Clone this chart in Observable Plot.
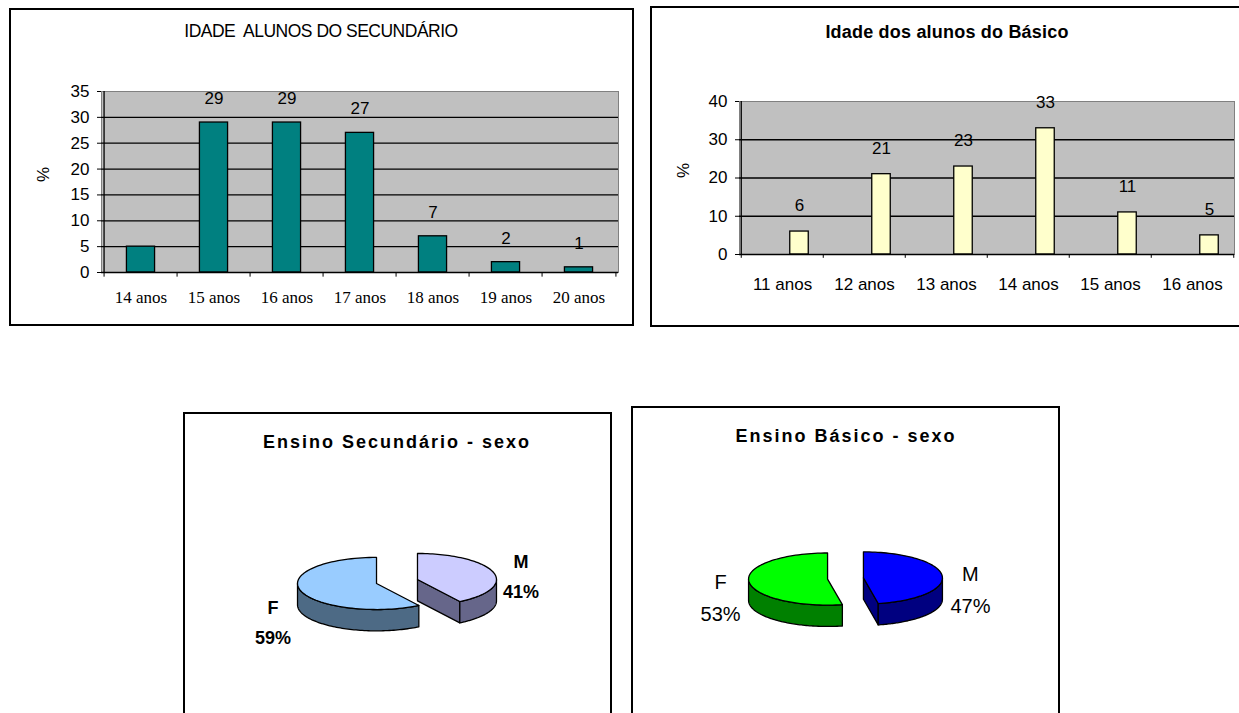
<!DOCTYPE html>
<html><head><meta charset="utf-8">
<script src="https://cdn.jsdelivr.net/npm/d3@7"></script>
<script src="https://cdn.jsdelivr.net/npm/@observablehq/plot@0.6"></script>
<style>
body{margin:0;background:#fff;}
#page{position:relative;width:1239px;height:713px;overflow:hidden;background:#fff;font-family:"Liberation Sans",Arial,sans-serif;}
.frame{position:absolute;border:2px solid #000;box-sizing:border-box;}
.layer{position:absolute;left:0;top:0;}
.title{position:absolute;transform:translate(-50%,-50%);white-space:pre;color:#000;line-height:1;}
</style></head><body><div id="page"></div>
<script>
// ---------- data ----------
const secAges = ["14 anos","15 anos","16 anos","17 anos","18 anos","19 anos","20 anos"];
const secValues = [5, 29, 29, 27, 7, 2, 1];
const secLabelShown = [false, true, true, true, true, true, true];
const secTicks = [0, 5, 10, 15, 20, 25, 30, 35];

const basAges = ["11 anos","12 anos","13 anos","14 anos","15 anos","16 anos"];
const basValues = [6, 21, 23, 33, 11, 5];
const basTicks = [0, 10, 20, 30, 40];

const sexCats = ["F", "M"];
const secSexValues = [59, 41];
const basSexValues = [53, 47];

// ---------- layout ----------
const W = 1239, H = 713;
const page = document.getElementById("page");
function addFrame(l, t, w, h) {
  const d = document.createElement("div");
  d.className = "frame";
  Object.assign(d.style, {left: l + "px", top: t + "px", width: w + "px", height: h + "px"});
  page.appendChild(d);
}
function addTitle(text, cx, cy, css) {
  const d = document.createElement("div");
  d.className = "title";
  d.textContent = text;
  Object.assign(d.style, {left: cx + "px", top: cy + "px"}, css);
  page.appendChild(d);
}
function addLayer(svg, tweaks) {
  svg.classList.add("layer");
  if (tweaks) for (const [label, ls] of tweaks)
    d3.select(svg).selectAll(`g[aria-label="${label}"] text`).style("letter-spacing", ls);
  page.appendChild(svg);
}
const baseStyle = {background: "transparent", overflow: "visible", fontFamily: "Liberation Sans, Arial, sans-serif", fontSize: "16px", color: "#000"};

addFrame(9, 8, 625, 318);
addFrame(650, 6, 600, 321);
addFrame(183, 412, 429, 400);
addFrame(631, 406, 429, 400);

addTitle("IDADE  ALUNOS DO SECUNDÁRIO", 321, 32, {fontSize: "17.5px", letterSpacing: "-0.5px"});
addTitle("Idade dos alunos do Básico", 947, 32, {fontSize: "18px", fontWeight: "bold", letterSpacing: "0.2px"});
addTitle("Ensino Secundário - sexo", 397, 442, {fontSize: "18px", fontWeight: "bold", letterSpacing: "2px"});
addTitle("Ensino Básico - sexo", 846, 436, {fontSize: "18px", fontWeight: "bold", letterSpacing: "2px"});

// ---------- chart 1: secundário ages ----------
{
  const L = 101, R = 618, T = 91, B = 272;
  const step = (R - L) / secAges.length, bw = 29;
  const rows = secAges.map((a, i) => ({age: a, v: secValues[i], shown: secLabelShown[i]}));
  const svg = Plot.plot({
    width: W, height: H, marginLeft: L, marginRight: W - R, marginTop: T, marginBottom: H - B,
    style: baseStyle,
    x: {domain: secAges, padding: 0, axis: null},
    y: {domain: [0, 35]},
    marks: [
      Plot.frame({fill: "#c0c0c0", stroke: "#808080"}),
      Plot.ruleY(secTicks.filter(t => t > 0 && t < 35), {stroke: "#000", strokeWidth: 1.3}),
      Plot.barY(rows, {x: "age", y: "v", fill: "#008080", stroke: "#000", strokeWidth: 1.3,
        insetLeft: (step - bw) / 2, insetRight: (step - bw) / 2}),
      Plot.ruleY([0], {stroke: "#000", strokeWidth: 1.3}),
      Plot.ruleX([secAges[0]], {y1: 0, y2: 35, dx: -step / 2, stroke: "#000", strokeWidth: 1.3}),
      Plot.ruleX(secAges, {x: d => d, y1: 0, y2: -0.9, dx: -step / 2, stroke: "#000"}),
      Plot.ruleX([secAges[secAges.length - 1]], {y1: 0, y2: -0.9, dx: step / 2, stroke: "#000"}),
      Plot.axisY({ticks: secTicks, tickSize: 4, tickPadding: 8, fontSize: 17, label: null}),
      Plot.text(rows.filter(d => d.shown), {x: "age", y: "v", text: d => String(d.v), dy: -24, fontSize: 17}),
      Plot.text(rows, {x: "age", y: 0, text: "age", dy: 25, fontSize: 17, fontFamily: "Liberation Serif, Times New Roman, serif", ariaLabel: "xlab"}),
      Plot.text(["%"], {frameAnchor: "left", text: d => d, rotate: -90, dx: -58, fontSize: 17})
    ]
  });
  addLayer(svg, [["xlab", "-1.3px"]]);
}

// ---------- chart 2: básico ages ----------
{
  const L = 739, R = 1234, T = 101, B = 254;
  const step = (R - L) / basAges.length, bw = 19, shift = 17;
  const rows = basAges.map((a, i) => ({age: a, v: basValues[i]}));
  const svg = Plot.plot({
    width: W, height: H, marginLeft: L, marginRight: W - R, marginTop: T, marginBottom: H - B,
    style: baseStyle,
    x: {domain: basAges, padding: 0, axis: null},
    y: {domain: [0, 40]},
    marks: [
      Plot.frame({fill: "#c0c0c0", stroke: "#808080"}),
      Plot.ruleY(basTicks.filter(t => t > 0 && t < 40), {stroke: "#000", strokeWidth: 1.3}),
      Plot.barY(rows, {x: "age", y: "v", fill: "#ffffcc", stroke: "#000", strokeWidth: 1.3,
        insetLeft: (step - bw) / 2 + shift, insetRight: (step - bw) / 2 - shift}),
      Plot.ruleY([0], {stroke: "#000", strokeWidth: 1.3}),
      Plot.ruleX([basAges[0]], {y1: 0, y2: 40, dx: -step / 2, stroke: "#000", strokeWidth: 1.3}),
      Plot.ruleX(basAges, {x: d => d, y1: 0, y2: -1.0, dx: -step / 2, stroke: "#000"}),
      Plot.ruleX([basAges[basAges.length - 1]], {y1: 0, y2: -1.0, dx: step / 2, stroke: "#000"}),
      Plot.axisY({ticks: basTicks, tickSize: 4, tickPadding: 8, fontSize: 17, label: null}),
      Plot.text(rows, {x: "age", y: "v", text: d => String(d.v), dx: shift, dy: -26, fontSize: 17}),
      Plot.text(rows, {x: "age", y: 0, text: "age", dy: 30, fontSize: 17}),
      Plot.text(["%"], {frameAnchor: "left", text: d => d, rotate: -90, dx: -56, fontSize: 17})
    ]
  });
  addLayer(svg);
}

// ---------- pies ----------
function pieLayer({values, order, topColors, sideColors, cx, cy, r, tilt, depth, explode, labelR, labelDy, labelFont}) {
  const rows = order.map(i => ({cat: sexCats[i], v: values[i], top: topColors[i], side: sideColors[i], ldy: labelDy[i]}));
  const arcs = d3.pie().sort(null).value(d => d.v)(rows);
  const N = 80, t = tilt, h = depth;
  const marks = [];
  const labels = [];
  arcs.forEach(a => {
    const m = (a.startAngle + a.endAngle) / 2;
    const ox = explode * Math.sin(m), oy = -explode * t * Math.cos(m);
    const P = (th, z) => ({x: ox + Math.sin(th), y: oy - t * Math.cos(th) + z});
    const arc = (a0, a1, z) => d3.range(N + 1).map(k => P(a0 + (a1 - a0) * k / N, z));
    const sides = [];
    if (Math.sin(a.startAngle) < -1e-6)
      sides.push([{x: ox, y: oy}, P(a.startAngle, 0), P(a.startAngle, h), {x: ox, y: oy + h}]);
    if (Math.sin(a.endAngle) > 1e-6)
      sides.push([{x: ox, y: oy}, P(a.endAngle, 0), P(a.endAngle, h), {x: ox, y: oy + h}]);
    const lo = Math.max(a.startAngle, Math.PI / 2), hi = Math.min(a.endAngle, 3 * Math.PI / 2);
    if (hi > lo) sides.push([...arc(lo, hi, 0), ...arc(hi, lo, h)]);
    for (const s of sides)
      marks.push(Plot.line(s, {x: "x", y: "y", fill: a.data.side, stroke: "#000", strokeWidth: 1.3, curve: "linear-closed"}));
    marks.push(Plot.line([{x: ox, y: oy}, ...arc(a.startAngle, a.endAngle, 0)],
      {x: "x", y: "y", fill: a.data.top, stroke: "#000", strokeWidth: 1.3, curve: "linear-closed"}));
    labels.push({
      x: ox + labelR * Math.sin(m),
      y: oy - t * labelR * Math.cos(m) + a.data.ldy / r,
      text: `${a.data.cat}\n${a.data.v}%`
    });
  });
  marks.push(Plot.text(labels, {x: "x", y: "y", text: "text", ...labelFont, ariaLabel: "pielab"}));
  return Plot.plot({
    width: W, height: H,
    marginLeft: cx - r, marginRight: W - (cx + r), marginTop: cy - r, marginBottom: H - (cy + r),
    style: baseStyle,
    x: {domain: [-1, 1], axis: null},
    y: {domain: [-1, 1], reverse: true, axis: null},
    marks
  });
}
// order: M first from 12 o'clock clockwise, then F; labelDy indexed like sexCats (F, M)
addLayer(pieLayer({
  values: secSexValues, order: [1, 0],
  topColors: ["#99ccff", "#ccccff"], sideColors: ["#4d6a85", "#66668a"],
  cx: 396.5, cy: 581, r: 79, tilt: 0.33, depth: 0.27, explode: 0.27,
  labelR: 1.365, labelDy: [26, 4],
  labelFont: {fontSize: 18, fontWeight: "bold", lineHeight: 1.65}
}), [["pielab", "0px"]]);
addLayer(pieLayer({
  values: basSexValues, order: [1, 0],
  topColors: ["#00ff00", "#0000ff"], sideColors: ["#008000", "#000080"],
  cx: 845, cy: 578, r: 79, tilt: 0.33, depth: 0.27, explode: 0.228,
  labelR: 1.36, labelDy: [12, 12],
  labelFont: {fontSize: 20, lineHeight: 1.6}
}), [["pielab", "1.5px"]]);
</script></body></html>
